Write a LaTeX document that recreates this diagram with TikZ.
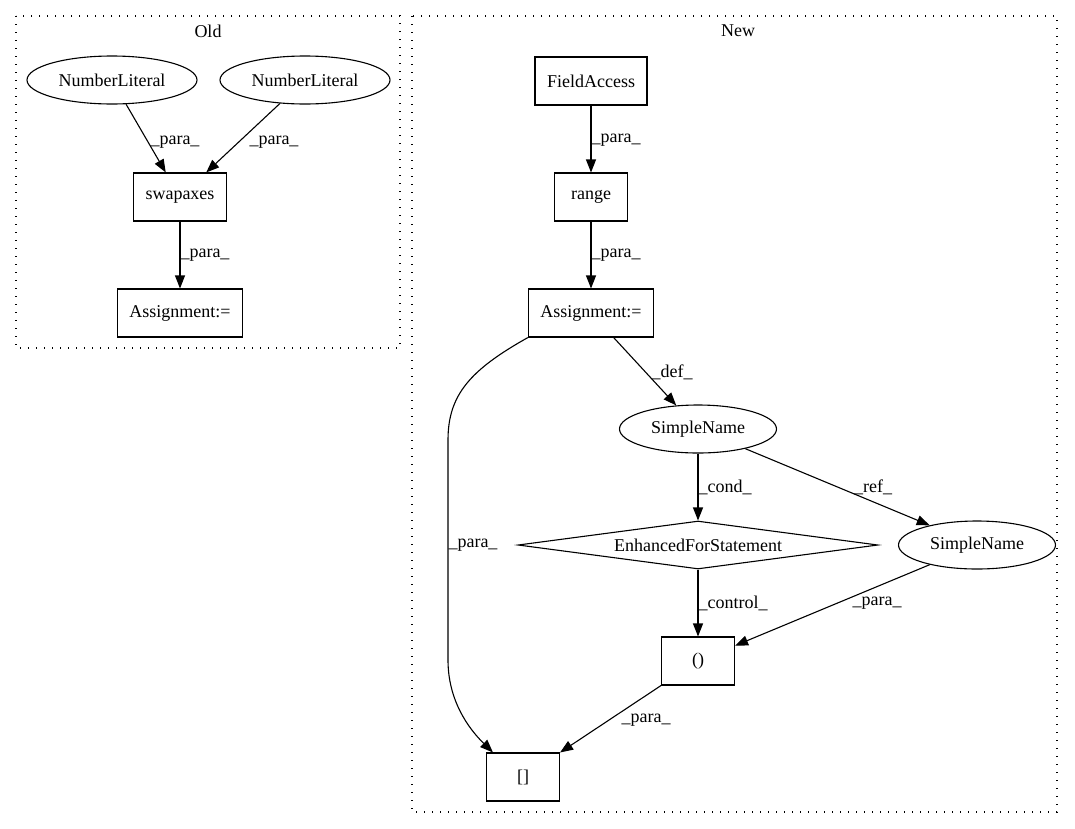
\documentclass[tikz,border=0pt]{standalone}
\usepackage{fontspec}
\setmainfont{Liberation Serif}
\usetikzlibrary{shapes.geometric, arrows.meta}

\begin{document}
\begin{tikzpicture}[x=1pt, y=-1pt, line width=1.1pt,
    >={Triangle[length=13pt, width=10pt]},
    txt/.style={font=\fontsize{18}{21}\selectfont},
    box/.style={txt, draw, rectangle, minimum width=73pt, minimum height=48pt, inner xsep=12pt},
    oval/.style={txt, draw, ellipse, minimum height=48pt, inner sep=0pt},
    lbl/.style={txt, inner sep=0pt},
    cluster/.style={line width=1.3pt, dash pattern=on 1.3pt off 6.7pt}]
    \useasboundingbox (0,0) rectangle (1075,828);

    % Clusters
    \draw[cluster] (16,16) rectangle (400,348);
    \node[lbl] (tOld) at (208,31) {Old};
    \draw[cluster] (412,16) rectangle (1057,812);
    \node[lbl] (tNew) at (738,31) {New};

    % Old
    \node[oval, minimum width=170pt] (nl1) at (112,80) {NumberLiteral};
    \node[oval, minimum width=170pt] (nl2) at (305,80) {NumberLiteral};
    \node[box] (swap) at (180,197) {swapaxes};
    \node[box] (asgOld) at (180,313) {Assignment:=};

    \draw[->] (nl1) -- (swap);
    \draw[->] (nl2) -- (swap);
    \draw[->] (swap) -- (asgOld);

    \node[lbl] (p1) at (175,142) {\_para\_};
    \node[lbl] (p2) at (274,142) {\_para\_};
    \node[lbl] (p3) at (205,255) {\_para\_};

    % New
    \node[box] (field) at (591,81) {FieldAccess};
    \node[box] (range) at (591,197) {range};
    \node[box] (asgNew) at (591,313) {Assignment:=};
    \node[oval, minimum width=157pt] (sn1) at (698,429) {SimpleName};
    \node[txt, draw, diamond, aspect=7.5, inner sep=0pt,
          minimum width=360pt, minimum height=48pt] (efs) at (698,545) {EnhancedForStatement};
    \node[oval, minimum width=157pt] (sn2) at (977,545) {SimpleName};
    \node[box] (call) at (698,661) {()};
    \node[box] (arr) at (523,777) {[]};

    \draw[->] (field) -- (range);
    \draw[->] (range) -- (asgNew);
    \draw[->] (asgNew) -- (sn1);
    \draw[->] (asgNew.south west) .. controls (470,370) and (448,395) .. (448,440)
        -- (448,660) .. controls (448,700) and (468,728) .. ([xshift=7pt]arr.north west);
    \draw[->] (sn1) -- (efs);
    \draw[->] (sn1) -- (sn2);
    \draw[->] (efs) -- (call);
    \draw[->] (sn2) -- (call);
    \draw[->] (call) -- (arr);

    % labels
    \node[lbl] (p4) at (616,140) {\_para\_};
    \node[lbl] (p5) at (616,255) {\_para\_};
    \node[lbl] (d1) at (672,372) {\_def\_};
    \node[lbl] (c1) at (725,487) {\_cond\_};
    \node[lbl] (r1) at (873,487) {\_ref\_};
    \node[lbl] (p6) at (473,545) {\_para\_};
    \node[lbl] (c2) at (733,603) {\_control\_};
    \node[lbl] (p7) at (877,603) {\_para\_};
    \node[lbl] (p8) at (646,720) {\_para\_};
\end{tikzpicture}
\end{document}
